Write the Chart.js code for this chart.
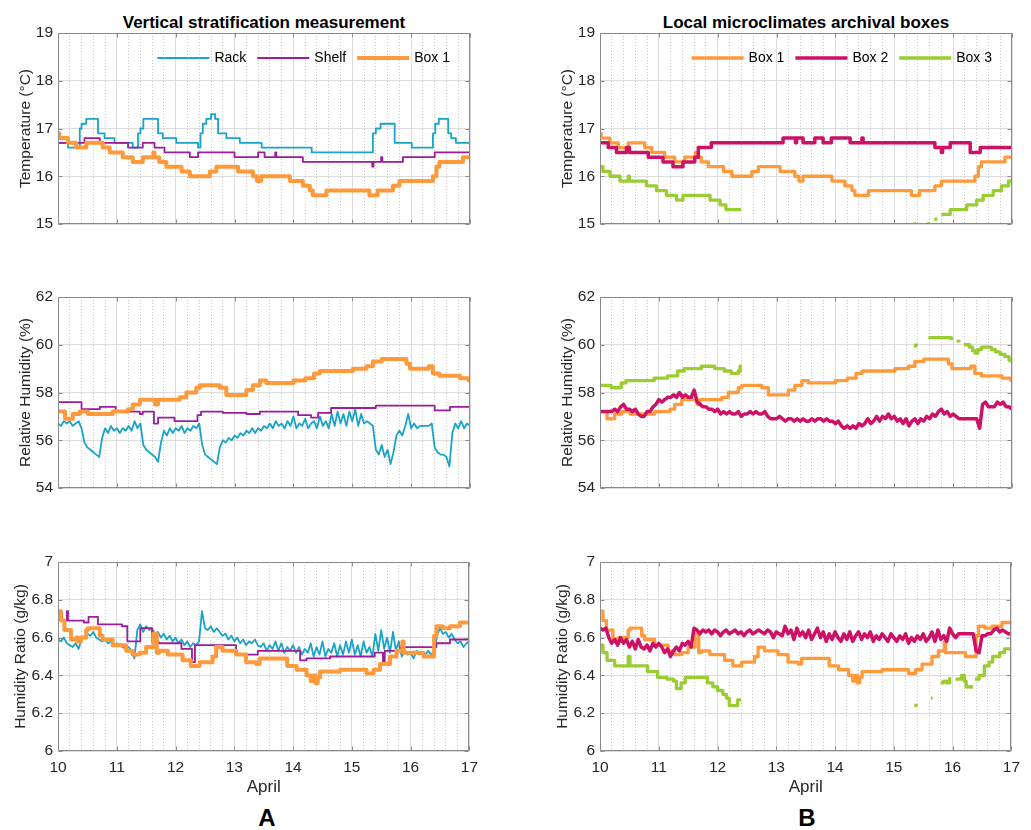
<!DOCTYPE html>
<html>
<head>
<meta charset="utf-8">
<script src="https://cdn.jsdelivr.net/npm/chart.js@4.4.1/dist/chart.umd.min.js"></script>
<style>
  html, body { margin: 0; padding: 0; background: #fff; }
  body { position: relative; width: 1031px; height: 830px; overflow: hidden;
         font-family: "Liberation Sans", Arial, sans-serif; }
  canvas { position: absolute; }
  .ptitle { position: absolute; top: 13px; width: 412px; text-align: center;
            font: bold 17px/20px "Liberation Sans", Arial, sans-serif; color: #000; }
  .tag { position: absolute; top: 804px; width: 412px; text-align: center;
         font: bold 24px/28px "Liberation Sans", Arial, sans-serif; color: #000; }
</style>
</head>
<body>
<div class="ptitle" style="left:58px">Vertical stratification measurement</div>
<div class="ptitle" style="left:600px">Local microclimates archival boxes</div>

<canvas id="aTemp" width="485" height="221" style="left:0;top:18px"></canvas>
<canvas id="aRh"   width="485" height="221" style="left:0;top:282px"></canvas>
<canvas id="aHr"   width="485" height="254" style="left:0;top:547px"></canvas>
<canvas id="bTemp" width="485" height="221" style="left:542px;top:18px"></canvas>
<canvas id="bRh"   width="485" height="221" style="left:542px;top:282px"></canvas>
<canvas id="bHr"   width="485" height="254" style="left:542px;top:547px"></canvas>

<div class="tag" style="left:61px">A</div>
<div class="tag" style="left:601px">B</div>

<script>
// ---- axes -------------------------------------------------------------
const dayTicks  = [10, 11, 12, 13, 14, 15, 16, 17];     // days of April
const xTitle    = 'April';
const tempTicks = [15, 16, 17, 18, 19];
const rhTicks   = [54, 56, 58, 60, 62];
const hrTicks   = [6, 6.2, 6.4, 6.6, 6.8, 7];

// ---- series labels & colours -------------------------------------------
const names  = { rack: 'Rack', shelf: 'Shelf', box1: 'Box 1', box2: 'Box 2', box3: 'Box 3' };
const colors = { rack: '#18a3c8', shelf: '#9c1c9e', box1: '#ff9a3c', box2: '#cc1167', box3: '#9acd32' };

// ---- temperature (°C): change points, value holds until the next time ---
const rackTempT  = [10.00,10.17,10.37,10.40,10.48,10.68,10.79,10.96,11.27,11.36,11.40,11.45,11.70,11.78,12.01,12.38,12.42,12.46,12.52,12.60,12.67,12.72,12.86,13.09,13.46,14.31,15.35,15.40,15.48,15.55,15.72,16.01,16.37,16.41,16.47,16.63,16.68,16.76,17.00];
const rackTempV  = [16.7,16.6,17.0,17.1,17.2,16.9,16.8,16.7,16.6,16.9,17.0,17.2,16.9,16.8,16.7,16.6,16.9,17.1,17.2,17.3,17.2,16.9,16.8,16.7,16.6,16.5,16.9,17.0,17.1,17.1,16.7,16.6,16.9,17.1,17.2,16.9,16.8,16.7,16.7];
const shelfTempT = [10.00,10.45,10.71,11.19,11.44,11.64,11.81,12.24,12.38,13.00,13.40,13.51,13.69,13.71,14.16,15.34,15.36,15.49,15.51,15.86,16.40,17.00];
const shelfTempV = [16.7,16.8,16.7,16.6,16.7,16.6,16.5,16.4,16.5,16.4,16.5,16.4,16.5,16.4,16.3,16.2,16.3,16.4,16.3,16.4,16.5,16.5];
const box1TempT  = [10.00,10.02,10.17,10.31,10.48,10.76,10.88,11.10,11.27,11.44,11.62,11.64,11.72,11.84,12.10,12.24,12.58,12.69,13.06,13.31,13.38,13.45,13.94,14.16,14.28,14.33,14.56,15.29,15.43,15.69,15.80,16.37,16.43,16.48,16.88,17.00];
const box1TempV  = [16.9,16.8,16.7,16.6,16.7,16.6,16.5,16.4,16.3,16.4,16.5,16.4,16.3,16.2,16.1,16.0,16.1,16.2,16.1,16.0,15.9,16.0,15.9,15.8,15.7,15.6,15.7,15.6,15.7,15.8,15.9,16.0,16.2,16.3,16.4,16.4];
const box2TempT  = [10.00,10.14,10.28,10.45,10.50,10.82,11.07,11.24,11.41,11.61,11.67,11.89,13.11,13.32,13.34,13.45,13.65,13.79,13.93,14.25,14.45,14.47,15.69,15.80,15.82,15.95,16.29,16.46,17.00];
const box2TempV  = [16.7,16.6,16.5,16.6,16.5,16.4,16.3,16.2,16.3,16.4,16.6,16.7,16.8,16.7,16.8,16.7,16.8,16.7,16.8,16.7,16.8,16.7,16.6,16.5,16.6,16.7,16.5,16.6,16.6];
const box3TempT  = [10.00,10.05,10.17,10.34,10.48,10.50,10.79,10.96,11.13,11.30,11.41,11.87,12.04,12.14,12.40,12.41,15.32,15.37,15.38,15.55,15.61,15.62,15.68,15.73,15.74,15.80,15.95,16.23,16.40,16.51,16.68,16.82,16.94,17.00];
const box3TempV  = [16.2,16.1,16.0,15.9,16.0,15.9,15.8,15.7,15.6,15.5,15.6,15.5,15.4,15.3,15.3,null,15.0,15.0,null,15.0,15.0,null,15.1,15.1,null,15.2,15.3,15.4,15.5,15.6,15.7,15.8,15.9,15.9];

// ---- relative humidity (%) ---------------------------------------------
const shelfRhT = [10.00,10.40,10.71,10.98,11.39,11.44,11.63,11.70,11.98,12.37,12.43,12.80,13.20,13.43,14.08,14.30,14.42,14.64,15.40,16.40,16.66,17.00];
const shelfRhV = [57.6,57.3,57.4,57.2,57.1,57.2,56.7,56.95,56.8,57.05,57.2,57.15,57.1,57.2,57.05,56.95,57.15,57.35,57.45,57.25,57.4,57.4];
const box1RhT  = [10.00,10.12,10.25,10.37,10.51,10.93,11.19,11.27,11.39,11.65,11.70,12.07,12.18,12.35,12.41,12.75,12.86,13.20,13.31,13.43,13.54,14.00,14.20,14.35,14.45,15.01,15.24,15.35,15.50,15.92,15.98,16.30,16.37,16.48,16.83,16.98,17.00];
const box1RhV  = [57.2,56.9,57.1,57.2,57.1,57.2,57.3,57.5,57.7,57.5,57.7,57.8,58.0,58.2,58.3,58.2,57.9,58.1,58.3,58.5,58.4,58.5,58.6,58.8,58.9,59.0,59.1,59.3,59.4,59.2,59.0,59.1,58.8,58.7,58.6,58.5,58.5];
const box3RhT  = [10.00,10.19,10.36,10.44,10.92,11.15,11.32,11.43,11.72,11.95,12.11,12.23,12.35,12.38,12.41,12.42,15.33,15.37,15.38,15.58,15.97,16.03,16.06,16.10,16.14,16.18,16.28,16.33,16.37,16.42,16.48,16.65,16.72,16.80,16.88,16.95,17.00];
const box3RhV  = [58.3,58.2,58.4,58.5,58.6,58.7,58.9,59.0,59.1,59.0,58.9,58.8,58.9,59.1,59.1,null,59.95,60.05,null,60.3,60.2,null,60.15,60.1,null,60.0,59.9,59.75,59.65,59.8,59.9,59.8,59.7,59.6,59.5,59.35,59.25];

// Rack and Box 2 loggers: one reading every 0.05 day from April 10, 00:00
const sampleStart = 10;
const sampleStep  = 0.05;
const rackRh = [
  56.7,56.6,56.8,56.7,56.8,56.6,56.7,56.8,56.5,55.9,55.7,55.6,55.5,55.4,55.3,56.1,56.5,56.3,56.6,56.4,
  56.5,56.3,56.5,56.4,56.6,56.4,56.8,56.5,56.7,55.8,55.6,55.5,55.4,55.3,55.1,55.9,56.4,56.2,56.5,56.3,
  56.5,56.4,56.6,56.3,56.5,56.4,56.6,56.5,56.7,55.8,55.4,55.3,55.2,55.1,55.0,55.7,56.0,55.9,56.1,56.0,
  56.2,56.1,56.3,56.2,56.4,56.3,56.5,56.3,56.5,56.4,56.6,56.5,56.7,56.5,56.8,56.6,56.7,56.5,56.8,56.6,
  57.0,56.5,56.7,56.6,56.9,56.5,56.7,56.8,56.5,57.0,56.6,56.8,56.5,57.1,56.6,57.2,56.7,57.1,56.6,57.2,
  56.8,57.3,56.6,57.1,56.7,56.8,56.7,56.6,55.6,55.4,55.8,55.3,55.6,55.0,55.5,56.2,56.4,56.2,56.6,57.1,
  56.5,56.7,56.5,56.6,56.6,56.6,56.6,56.7,55.7,55.5,55.4,55.4,55.3,54.9,56.3,56.7,56.5,56.8,56.5,56.7,
  56.6];
const box2Rh = [
  57.2,57.2,57.2,57.2,57.2,57.3,57.2,57.4,57.5,57.3,57.3,57.2,57.3,57.1,57.0,57.0,57.2,57.2,57.4,57.5,
  57.7,57.6,57.7,57.8,57.8,57.9,57.8,58.0,57.8,57.9,57.8,57.8,58.1,57.6,57.5,57.4,57.4,57.3,57.3,57.2,
  57.3,57.1,57.2,57.1,57.2,57.1,57.1,57.2,57.0,57.1,57.1,57.2,57.1,57.2,57.1,57.1,57.2,57.0,56.9,56.9,
  56.9,57.0,56.9,56.8,56.9,56.9,56.8,56.9,56.8,56.9,56.8,56.8,56.9,56.8,56.9,56.9,56.8,56.9,56.8,56.8,
  56.7,56.8,56.6,56.5,56.6,56.5,56.6,56.5,56.7,56.6,56.7,56.9,56.7,56.8,57.0,56.8,57.0,56.9,57.1,56.9,
  57.0,56.8,56.9,56.7,56.9,56.6,56.8,56.9,56.7,56.9,56.8,57.0,56.9,57.1,57.0,57.2,57.3,57.1,57.2,57.0,
  57.1,57.0,56.9,56.9,56.9,56.9,56.9,56.9,56.9,56.5,57.5,57.6,57.4,57.4,57.4,57.6,57.5,57.6,57.4,57.4,
  57.3];

// ---- humidity ratio (g/kg) ----------------------------------------------
const shelfHrT = [10.00,10.06,10.15,10.17,10.44,10.52,10.68,11.09,11.18,11.40,11.60,11.71,12.10,12.28,12.33,13.03,13.40,13.48,14.12,14.23,14.63,15.39,15.53,15.56,15.82,16.44,16.67,17.00];
const shelfHrV = [6.74,6.69,6.74,6.69,6.68,6.71,6.67,6.66,6.58,6.65,6.58,6.57,6.54,6.47,6.56,6.51,6.53,6.53,6.48,6.49,6.50,6.52,6.46,6.53,6.55,6.57,6.59,6.59];
const box1HrT  = [10.00,10.05,10.11,10.22,10.31,10.34,10.39,10.48,10.51,10.71,10.76,10.93,11.16,11.27,11.39,11.50,11.62,11.68,11.72,11.87,12.12,12.26,12.41,12.63,12.69,12.80,13.03,13.20,13.37,13.43,13.55,13.90,14.06,14.23,14.30,14.34,14.38,14.42,14.46,14.80,15.25,15.37,15.48,15.58,15.65,15.76,15.86,15.88,16.22,16.40,16.44,16.55,16.67,16.84,17.00];
const box1HrV  = [6.74,6.69,6.64,6.59,6.60,6.58,6.60,6.64,6.65,6.61,6.59,6.56,6.53,6.51,6.52,6.55,6.62,6.52,6.53,6.51,6.48,6.45,6.47,6.50,6.55,6.53,6.51,6.47,6.46,6.49,6.49,6.45,6.43,6.40,6.37,6.40,6.36,6.39,6.42,6.43,6.41,6.43,6.46,6.46,6.50,6.53,6.58,6.52,6.50,6.61,6.66,6.65,6.66,6.68,6.67];
const box3HrT  = [10.00,10.05,10.12,10.25,10.48,10.51,10.81,10.98,11.14,11.25,11.30,11.38,11.45,11.83,11.92,12.00,12.09,12.15,12.20,12.34,12.40,12.41,
                  15.35,15.38,15.39,15.63,15.66,15.67,15.80,15.84,15.90,15.95,16.00,16.05,16.15,16.20,16.23,16.32,16.34,16.38,16.45,16.54,16.62,16.68,16.80,16.88,17.00];
const box3HrV  = [6.56,6.52,6.48,6.45,6.50,6.45,6.42,6.39,6.38,6.37,6.33,6.36,6.39,6.36,6.34,6.32,6.30,6.28,6.24,6.27,6.27,null,
                  6.24,6.25,null,6.28,6.28,null,6.36,6.37,6.36,6.39,null,6.38,6.40,6.37,6.34,6.33,null,6.38,6.40,6.45,6.47,6.50,6.52,6.54,6.54];
const rackHr = [
  6.59,6.58,6.60,6.57,6.56,6.55,6.57,6.54,6.59,6.60,6.62,6.61,6.63,6.60,6.59,6.58,6.59,6.57,6.58,6.56,
  6.57,6.56,6.55,6.54,6.55,6.53,6.49,6.64,6.67,6.63,6.66,6.64,6.65,6.62,6.63,6.60,6.62,6.59,6.61,6.58,
  6.60,6.57,6.59,6.56,6.58,6.55,6.57,6.56,6.58,6.74,6.65,6.64,6.66,6.63,6.65,6.63,6.61,6.62,6.59,6.61,
  6.58,6.60,6.57,6.59,6.56,6.58,6.57,6.59,6.56,6.55,6.57,6.53,6.56,6.54,6.58,6.53,6.57,6.52,6.55,6.53,
  6.56,6.52,6.55,6.51,6.54,6.52,6.57,6.50,6.55,6.51,6.58,6.50,6.54,6.52,6.57,6.50,6.56,6.51,6.58,6.52,
  6.59,6.51,6.56,6.50,6.58,6.52,6.55,6.50,6.62,6.53,6.64,6.54,6.60,6.52,6.63,6.53,6.58,6.50,6.53,6.51,
  6.52,6.49,6.53,6.51,6.52,6.51,6.53,6.51,6.52,6.61,6.65,6.62,6.63,6.60,6.62,6.59,6.57,6.58,6.55,6.57,
  6.58];
const box2Hr = [
  6.65,6.64,6.65,6.60,6.57,6.59,6.56,6.60,6.57,6.59,6.55,6.58,6.54,6.59,6.55,6.54,6.56,6.53,6.57,6.55,
  6.57,6.55,6.52,6.54,6.50,6.53,6.55,6.53,6.57,6.56,6.58,6.55,6.65,6.64,6.62,6.64,6.63,6.64,6.62,6.64,
  6.63,6.61,6.63,6.64,6.62,6.63,6.64,6.62,6.63,6.61,6.63,6.64,6.62,6.63,6.64,6.63,6.62,6.64,6.63,6.60,
  6.63,6.62,6.61,6.66,6.62,6.64,6.59,6.65,6.61,6.63,6.60,6.64,6.59,6.62,6.65,6.60,6.63,6.58,6.62,6.59,
  6.63,6.60,6.58,6.62,6.59,6.63,6.58,6.61,6.63,6.59,6.62,6.60,6.63,6.58,6.61,6.59,6.62,6.60,6.58,6.62,
  6.60,6.58,6.61,6.59,6.62,6.57,6.60,6.58,6.61,6.59,6.62,6.58,6.60,6.63,6.58,6.64,6.59,6.61,6.58,6.65,
  6.62,6.60,6.62,6.62,6.62,6.62,6.62,6.62,6.53,6.52,6.61,6.61,6.62,6.62,6.64,6.65,6.63,6.64,6.63,6.62,
  6.62];

// ---- helpers ------------------------------------------------------------
const FONT = '"Liberation Sans", Arial, sans-serif';
const INK = '#262626';
Chart.defaults.font.family = FONT;
Chart.defaults.color = INK;

const pairs   = (t, v) => t.map((x, i) => ({ x, y: v[i] }));
const sampled = v => v.map((y, i) => ({ x: sampleStart + i * sampleStep, y }));

function line(key, points, width, order, stepped) {
  return {
    label: names[key], data: points, borderColor: colors[key], backgroundColor: colors[key],
    borderWidth: width, order, stepped: stepped ? 'before' : false,
    pointRadius: 0, tension: 0, spanGaps: false, fill: false,
    borderJoinStyle: 'round', borderCapStyle: 'butt'
  };
}

// axes box with inward tick marks
const framePlugin = {
  id: 'frame',
  afterDatasetsDraw(chart) {
    const { ctx, chartArea: a, scales } = chart;
    const L = Math.round(a.left) + 0.5, R = Math.round(a.right) - 0.5;
    const T = Math.round(a.top) + 0.5, B = Math.round(a.bottom) - 0.5;
    ctx.save();
    ctx.strokeStyle = '#8a8a8a';
    ctx.lineWidth = 1;
    ctx.beginPath();
    scales.y.ticks.forEach(t => {
      const y = Math.round(scales.y.getPixelForValue(t.value)) + 0.5;
      ctx.moveTo(L, y); ctx.lineTo(L + 4, y);
      ctx.moveTo(R, y); ctx.lineTo(R - 4, y);
    });
    scales.x.ticks.forEach(t => {
      const x = Math.round(scales.x.getPixelForValue(t.value)) + 0.5;
      ctx.moveTo(x, B); ctx.lineTo(x, B - 4);
      ctx.moveTo(x, T); ctx.lineTo(x, T + 4);
    });
    ctx.moveTo(L, T); ctx.lineTo(R, T); ctx.lineTo(R, B); ctx.lineTo(L, B); ctx.closePath();
    ctx.stroke();
    ctx.restore();
  }
};

// legend drawn inside the plot, right aligned, one row
const insideLegend = {
  id: 'insideLegend',
  afterDatasetsDraw(chart) {
    const { ctx, chartArea: a } = chart;
    const y = a.top + 25;
    let x = a.right - 20;
    ctx.save();
    ctx.font = '14px ' + FONT;
    ctx.textBaseline = 'middle';
    ctx.textAlign = 'left';
    chart.data.datasets.slice().reverse().forEach(d => {
      const w = ctx.measureText(d.label).width;
      x -= w;
      ctx.fillStyle = '#000';
      ctx.fillText(d.label, x, y);
      x -= 5;
      ctx.strokeStyle = d.borderColor;
      ctx.lineWidth = d.borderWidth;
      ctx.beginPath();
      ctx.moveTo(x - 52, y); ctx.lineTo(x, y);
      ctx.stroke();
      x -= 52 + 11;
    });
    ctx.restore();
  }
};

function panel(id, opt) {
  const yt = opt.yTicks;
  const isInt = v => Math.abs(v - Math.round(v)) < 1e-6;
  new Chart(document.getElementById(id), {
    type: 'line',
    data: { datasets: opt.datasets },
    options: {
      responsive: false, animation: false, events: [],
      layout: { padding: { top: 15, right: 15, bottom: opt.showX ? 0 : 15, left: 0 } },
      plugins: { legend: { display: false }, tooltip: { enabled: false } },
      scales: {
        x: {
          type: 'linear', position: 'bottom', weight: 1,
          min: dayTicks[0], max: dayTicks[dayTicks.length - 1],
          afterFit: s => { s.height = opt.showX ? 50 : 0; },
          ticks: { display: opt.showX, stepSize: 1, padding: 7, font: { size: 15.5 }, color: INK,
                   callback: v => String(v) },
          grid: { color: '#dcdcdc', lineWidth: 1, drawTicks: false },
          border: { display: false },
          title: { display: opt.showX, text: xTitle, font: { size: 17 }, color: INK,
                   padding: { top: 0, bottom: 3 } }
        },
        xm: {
          type: 'linear', position: 'bottom', weight: 0,
          min: dayTicks[0], max: dayTicks[dayTicks.length - 1],
          afterFit: s => { s.height = 0; },
          ticks: { display: false, stepSize: 0.2 },
          grid: { drawTicks: false, lineWidth: 1,
                  color: c => isInt(c.tick.value) ? 'rgba(0,0,0,0)' : '#c9c9c9' },
          border: { display: false, dash: [1, 2] }
        },
        y: {
          type: 'linear', position: 'left',
          min: yt[0], max: yt[yt.length - 1],
          afterFit: s => { s.width = 58; },
          ticks: { stepSize: yt[1] - yt[0], padding: 5, font: { size: 15.5 }, color: INK,
                   callback: v => String(Math.round(v * 10) / 10) },
          grid: { color: '#dcdcdc', lineWidth: 1, drawTicks: false },
          border: { display: false },
          title: { display: true, text: opt.yTitle, font: { size: 15.5 }, color: INK,
                   padding: { top: opt.titlePad, bottom: 0 } }
        }
      }
    },
    plugins: opt.legend ? [framePlugin, insideLegend] : [framePlugin]
  });
}

// ---- A: vertical stratification -----------------------------------------
panel('aTemp', {
  yTicks: tempTicks, yTitle: 'Temperature (°C)', titlePad: 16.5, showX: false, legend: true,
  datasets: [
    line('rack',  pairs(rackTempT,  rackTempV),  1.8, 2, true),
    line('shelf', pairs(shelfTempT, shelfTempV), 1.8, 1, true),
    line('box1',  pairs(box1TempT,  box1TempV),  4,   0, true)
  ]
});
panel('aRh', {
  yTicks: rhTicks, yTitle: 'Relative Humidity (%)', titlePad: 16.5, showX: false,
  datasets: [
    line('rack',  sampled(rackRh),              1.8, 2, false),
    line('shelf', pairs(shelfRhT, shelfRhV),    1.8, 1, true),
    line('box1',  pairs(box1RhT,  box1RhV),     4,   0, true)
  ]
});
panel('aHr', {
  yTicks: hrTicks, yTitle: 'Humidity Ratio (g/kg)', titlePad: 11.5, showX: true,
  datasets: [
    line('rack',  sampled(rackHr),              1.8, 2, false),
    line('shelf', pairs(shelfHrT, shelfHrV),    1.8, 1, true),
    line('box1',  pairs(box1HrT,  box1HrV),     4,   0, true)
  ]
});

// ---- B: archival boxes ---------------------------------------------------
panel('bTemp', {
  yTicks: tempTicks, yTitle: 'Temperature (°C)', titlePad: 16.5, showX: false, legend: true,
  datasets: [
    line('box1', pairs(box1TempT, box1TempV), 3.3, 2, true),
    line('box2', pairs(box2TempT, box2TempV), 3.5, 1, true),
    line('box3', pairs(box3TempT, box3TempV), 3.3, 0, true)
  ]
});
panel('bRh', {
  yTicks: rhTicks, yTitle: 'Relative Humidity (%)', titlePad: 16.5, showX: false,
  datasets: [
    line('box1', pairs(box1RhT, box1RhV), 3.3, 2, true),
    line('box2', sampled(box2Rh),         3.5, 1, false),
    line('box3', pairs(box3RhT, box3RhV), 3.3, 0, true)
  ]
});
panel('bHr', {
  yTicks: hrTicks, yTitle: 'Humidity Ratio (g/kg)', titlePad: 11.5, showX: true,
  datasets: [
    line('box1', pairs(box1HrT, box1HrV), 3.3, 2, true),
    line('box2', sampled(box2Hr),         3.5, 1, false),
    line('box3', pairs(box3HrT, box3HrV), 3.3, 0, true)
  ]
});
</script>
</body>
</html>
